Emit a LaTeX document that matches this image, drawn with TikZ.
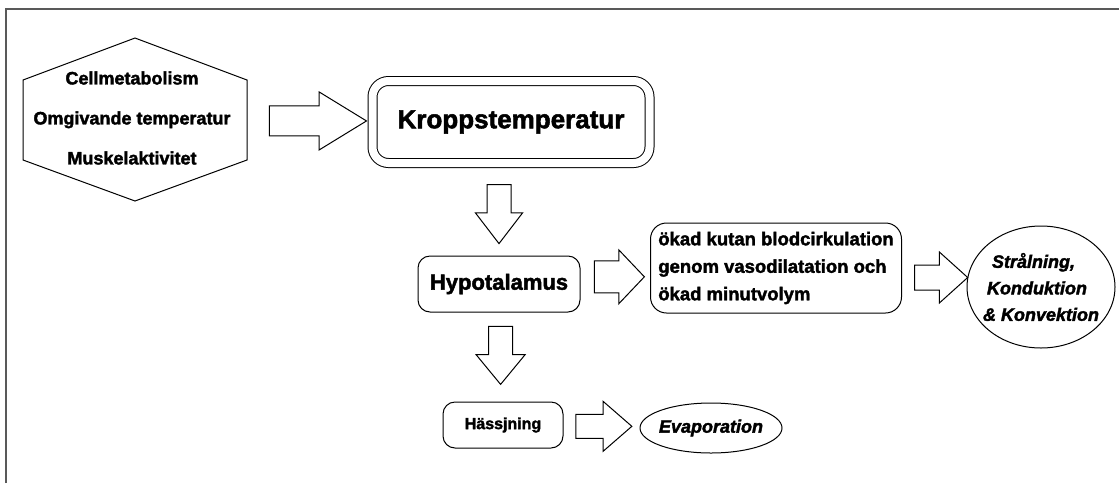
\documentclass[tikz,border=0pt]{standalone}
\usepackage{fontspec}
\setmainfont[BoldFeatures={FakeBold=2},BoldItalicFeatures={FakeBold=2}]{Liberation Sans}
\usetikzlibrary{shapes.arrows,shapes.geometric}

\begin{document}
\begin{tikzpicture}[
    x=1pt,y=-1pt,
    line width=1pt,
    frame/.style={
      draw=black!65,
      line width=2pt
    },
    roundbox/.style={
      draw,
      rounded corners=12pt,
      inner sep=0pt
    },
    oval/.style={
      draw,
      ellipse,
      inner sep=-8pt,
      font=\fontsize{18}{26.5}\selectfont\bfseries\itshape
    },
    blockarrow/.style={
      draw,
      single arrow,
      inner xsep=0pt,
      fill=white
    }
  ]
    \useasboundingbox (0,0) rectangle (1119,483);
    \draw[frame] (6,483) -- (6,9) -- (1119,9);

    % hexagon with the three causes
    \draw (135,38) -- (247,80) -- (247,160) -- (135,201) -- (23,160) -- (23,80) -- cycle;
    \node[align=center,font=\fontsize{18}{40}\selectfont\bfseries] (hex) at (132,118)
      {Cellmetabolism\\Omgivande temperatur\\Muskelaktivitet};
    \coordinate (hexE) at (247,120);

    \node[roundbox,double,double distance=8pt,rounded corners=16pt,
      minimum width=277pt,minimum height=82pt,
      font=\fontsize{26}{30}\selectfont\bfseries] (kropp) at (511,122) {Kroppstemperatur};
    \node[roundbox,minimum width=162pt,minimum height=56pt,
      font=\fontsize{22}{26}\selectfont\bfseries] (hypo) at (499,284) {Hypotalamus};
    \node[roundbox,rounded corners=16pt,minimum width=251pt,minimum height=90pt,align=left,
      font=\fontsize{18.5}{27.5}\selectfont\bfseries] (blod) at (776,268)
      {ökad kutan blodcirkulation\\genom vasodilatation och\\ökad minutvolym};
    \node[oval,minimum width=148pt,minimum height=122pt,align=left] (strol) at (1041,287)
      {\hspace*{9pt}Strålning,\\\hspace*{4pt}Konduktion\\\&~Konvektion};
    \node[roundbox,minimum width=120pt,minimum height=46pt,
      font=\fontsize{16}{20}\selectfont\bfseries] (hass) at (503,425) {Hässjning};
    \node[oval,minimum width=142pt,minimum height=50pt] (evap) at (711,428) {Evaporation};

    % block arrows
    \path (hexE) -- node[blockarrow,pos=0.47,minimum height=97pt,inner ysep=14.5pt,
      single arrow head extend=14pt,single arrow tip angle=63] (pil1) {} (kropp.west);
    \path (kropp.south -| hypo.north) -- node[blockarrow,pos=0.465,rotate=-90,
      minimum height=59pt,inner ysep=11.5pt,
      single arrow head extend=11.5pt,single arrow tip angle=75] (pil2) {} (hypo.north);
    \path (hypo.east) -- node[blockarrow,pos=0.45,minimum height=50pt,inner ysep=15.5pt,
      single arrow head extend=11pt,single arrow tip angle=93] (pil3) {} (blod.west);
    \path (blod.east) -- node[blockarrow,pos=0.5,minimum height=53pt,inner ysep=12pt,
      single arrow head extend=13pt,single arrow tip angle=84] (pil4) {} (strol.west);
    \path (hypo.south) -- node[blockarrow,pos=0.40,rotate=-90,
      minimum height=58pt,inner ysep=11.5pt,
      single arrow head extend=12.5pt,single arrow tip angle=79] (pil5) {} (hass.north);
    \path (hass.east) -- node[blockarrow,pos=0.44,minimum height=56pt,inner ysep=11.5pt,
      single arrow head extend=13pt,single arrow tip angle=82] (pil6) {} (evap.west);
\end{tikzpicture}
\end{document}
